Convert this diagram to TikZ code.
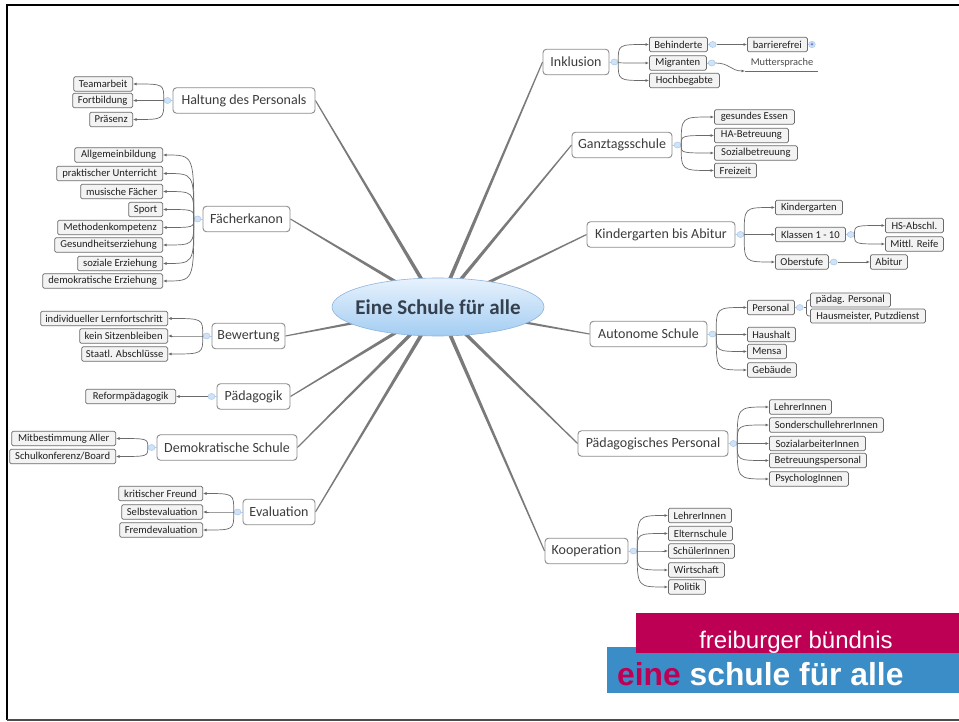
\documentclass[tikz,border=0pt]{standalone}
\usepackage{fontspec}
\setmainfont{Carlito}
\newfontfamily\logofont{Liberation Sans}
\usetikzlibrary{shapes.geometric,arrows.meta,calc}
\pgfdeclarelayer{background}
\pgfsetlayers{background,main}
\definecolor{spokegray}{HTML}{7A7A7A}
\definecolor{boxline}{HTML}{8C8C8C}
\definecolor{kidline}{HTML}{6A6A6A}
\definecolor{kidfill}{HTML}{F3F3F3}
\definecolor{knobfill}{HTML}{CFE2F6}
\definecolor{knobline}{HTML}{A9C8EA}
\definecolor{ellline}{HTML}{8DB4DE}
\definecolor{elltop}{HTML}{E8F2FD}
\definecolor{ellbot}{HTML}{A3CDF3}
\definecolor{titletext}{HTML}{34404E}
\definecolor{maintext}{HTML}{3C3C3C}
\definecolor{logomag}{HTML}{BE0055}
\definecolor{logoblue}{HTML}{3A8DC6}
\begin{document}
\begin{tikzpicture}[x=1pt,y=-1pt,
 mainbox/.style={draw=boxline, line width=0.9pt, rounded corners=3.5pt, fill=white, inner sep=0pt, minimum height=25.5pt, text=maintext, font=\fontsize{14}{16}\selectfont},
 kidbox/.style={draw=kidline, line width=0.75pt, rounded corners=1.5pt, fill=kidfill, inner sep=0pt, minimum height=14.5pt, text=black!88, font=\fontsize{10.6}{12}\selectfont},
 kidL/.style={kidbox, anchor=east},
 kidR/.style={kidbox, anchor=west},
 knob/.style={ellipse, draw=knobline, fill=knobfill, minimum width=7pt, minimum height=6pt, inner sep=0pt, line width=0.5pt},
 kid/.style={draw=kidline, line width=0.7pt, -{Latex[length=3.5pt,width=3pt]}},
 plainline/.style={draw=kidline, line width=0.7pt},
 stub/.style={draw=knobline, line width=0.7pt},
]
\useasboundingbox (0,0) rectangle (959,722);

% frame
\draw[line width=2pt, black] (960,5) -- (7,5) -- (7,720);
\draw[line width=1.5pt, black!70] (7,720) -- (960,720);

% centre
\node[ellipse, draw=ellline, line width=0.6pt, top color=elltop, bottom color=ellbot, minimum width=212pt, minimum height=58pt, inner sep=0pt] (hub) at (438,307) {};
\node[inner sep=0pt, text=titletext, font=\bfseries\fontsize{21}{24}\selectfont] (title) at (hub.center) {Eine Schule für alle};

% ---------- left branches ----------
\node[mainbox, minimum width=142pt] (halt) at (244,100.5) {Haltung des Personals};
\node[kidL, minimum width=59pt] (h1) at (133,84) {Teamarbeit};
\node[kidL, minimum width=60pt] (h2) at (133,100.5) {Fortbildung};
\node[kidL, minimum width=43pt] (h3) at (133,119.5) {Präsenz};
\node[knob] (hk) at ($(halt.west)+(-5,0)$) {};

\node[mainbox, minimum width=87pt] (faech) at (246.5,219) {Fächerkanon};
\node[kidL, minimum width=88pt] (f1) at (163,155) {Allgemeinbildung};
\node[kidL, minimum width=106pt] (f2) at (163,173.5) {praktischer Unterricht};
\node[kidL, minimum width=82pt] (f3) at (163,191.5) {musische Fächer};
\node[kidL, minimum width=34pt] (f4) at (163,209.5) {Sport};
\node[kidL, minimum width=105pt] (f5) at (163,227.5) {Methodenkompetenz};
\node[kidL, minimum width=108pt] (f6) at (163,245) {Gesundheitserziehung};
\node[kidL, minimum width=85pt] (f7) at (163,263.5) {soziale Erziehung};
\node[kidL, minimum width=120pt] (f8) at (163,281) {demokratische Erziehung};
\node[knob] (fk) at ($(faech.west)+(-5,0)$) {};

\node[mainbox, minimum width=73pt] (bew) at (248.5,336) {Bewertung};
\node[kidL, minimum width=127pt] (b1) at (168,318.5) {individueller Lernfortschritt};
\node[kidL, minimum width=88pt] (b2) at (168,336) {kein Sitzenbleiben};
\node[kidL, minimum width=86pt] (b3) at (168,354) {Staatl. Abschlüsse};
\node[knob] (bk) at ($(bew.west)+(-5,0)$) {};

\node[mainbox, minimum width=73pt] (paed) at (253.5,396.5) {Pädagogik};
\node[kidL, minimum width=90pt] (p1) at (176,396.5) {Reformpädagogik};
\node[knob] (pk) at ($(paed.west)+(-5,0)$) {};

\node[mainbox, minimum width=140pt] (demo) at (227,447.5) {Demokratische Schule};
\node[kidL, minimum width=104pt] (d1) at (116,438.5) {Mitbestimmung Aller};
\node[kidL, minimum width=106pt] (d2) at (116,456.5) {Schulkonferenz/Board};
\node[knob] (dk) at ($(demo.west)+(-5,0)$) {};

\node[mainbox, minimum width=72pt] (eval) at (279,512) {Evaluation};
\node[kidL, minimum width=84pt] (e1) at (203,493.5) {kritischer Freund};
\node[kidL, minimum width=81pt] (e2) at (203,512) {Selbstevaluation};
\node[kidL, minimum width=83pt] (e3) at (203,530) {Fremdevaluation};
\node[knob] (ek) at ($(eval.west)+(-5,0)$) {};

% ---------- right branches ----------
\node[mainbox, minimum width=66pt] (inkl) at (576,62) {Inklusion};
\node[kidR, minimum width=58pt] (i1) at (649,44.5) {Behinderte};
\node[kidR, minimum width=57pt] (i2) at (649,63) {Migranten};
\node[kidR, minimum width=70pt] (i3) at (649,80.5) {Hochbegabte};
\node[knob] (ik) at ($(inkl.east)+(5,0)$) {};
\node[knob] (ik1) at ($(i1.east)+(5,0)$) {};
\node[knob] (ik2) at ($(i2.east)+(5,0)$) {};
\node[kidR, minimum width=60pt] (barr) at (747,44.5) {barrierefrei};
\node[knob, minimum width=6.5pt, minimum height=6.5pt, circle, font=\fontsize{6}{6}\selectfont, text=blue!60!black] (plus) at (812,44.5) {+};
\coordinate (mu) at (745,71);
\coordinate (mu2) at (818,71);
\node[inner sep=0pt, text=black!70, font=\fontsize{10.4}{12}\selectfont] (mutt) at (782,62.5) {Muttersprache};

\node[mainbox, minimum width=100pt] (ganz) at (622,145) {Ganztagsschule};
\node[kidR, minimum width=80pt] (g1) at (714,117) {gesundes Essen};
\node[kidR, minimum width=74pt] (g2) at (714,135.5) {HA-Betreuung};
\node[kidR, minimum width=83pt] (g3) at (714,153) {Sozialbetreuung};
\node[kidR, minimum width=42pt] (g4) at (714,170.5) {Freizeit};
\node[knob] (gk) at ($(ganz.east)+(5,0)$) {};

\node[mainbox, minimum width=148pt] (kiga) at (661,234.5) {Kindergarten bis Abitur};
\node[kidR, minimum width=67pt] (k1) at (775,207.5) {Kindergarten};
\node[kidR, minimum width=70pt] (k2) at (775,234.5) {Klassen 1 - 10};
\node[kidR, minimum width=53pt] (k3) at (775,262) {Oberstufe};
\node[knob] (kk) at ($(kiga.east)+(5,0)$) {};
\node[knob] (kk2) at ($(k2.east)+(5,0)$) {};
\node[knob] (kk3) at ($(k3.east)+(5,0)$) {};
\node[kidR, minimum width=58pt] (k21) at (885,225.5) {HS-Abschl.};
\node[kidR, minimum width=58pt] (k22) at (885,244) {Mittl. Reife};
\node[kidR, minimum width=37pt] (k31) at (870,262) {Abitur};

\node[mainbox, minimum width=117pt] (auto) at (648.5,334) {Autonome Schule};
\node[kidR, minimum width=47pt] (a1) at (747,307.5) {Personal};
\node[kidR, minimum width=48pt] (a2) at (747,334.5) {Haushalt};
\node[kidR, minimum width=39pt] (a3) at (747,351.5) {Mensa};
\node[kidR, minimum width=49pt] (a4) at (747,370) {Gebäude};
\node[knob] (ak) at ($(auto.east)+(5,0)$) {};
\node[knob] (ak1) at ($(a1.east)+(5,0)$) {};
\node[kidR, minimum width=80pt, minimum height=14pt] (a11) at (810,300) {pädag. Personal};
\node[kidR, minimum width=115pt, minimum height=14pt] (a12) at (810,316) {Hausmeister, Putzdienst};
\coordinate (aj) at ($(ak1.east)+(3,0)$);

\node[mainbox, minimum width=150pt] (ppers) at (653,443.5) {Pädagogisches Personal};
\node[kidR, minimum width=62pt] (q1) at (769,407) {LehrerInnen};
\node[kidR, minimum width=114pt] (q2) at (769,425) {SonderschullehrerInnen};
\node[kidR, minimum width=96pt] (q3) at (769,443.5) {SozialarbeiterInnen};
\node[kidR, minimum width=97pt] (q4) at (769,460.5) {Betreuungspersonal};
\node[kidR, minimum width=79pt] (q5) at (769,479) {PsychologInnen};
\node[knob] (qk) at ($(ppers.east)+(5,0)$) {};

\node[mainbox, minimum width=83pt] (koop) at (586.5,551) {Kooperation};
\node[kidR, minimum width=63pt] (c1) at (668,515.5) {LehrerInnen};
\node[kidR, minimum width=64pt] (c2) at (668,533.5) {Elternschule};
\node[kidR, minimum width=66pt] (c3) at (668,551) {SchülerInnen};
\node[kidR, minimum width=56pt] (c4) at (668,570) {Wirtschaft};
\node[kidR, minimum width=37pt] (c5) at (668,587) {Politik};
\node[knob] (ck) at ($(koop.east)+(5,0)$) {};

% ---------- tapered spokes (behind the centre) ----------
\begin{pgfonlayer}{background}
\fill[white] (0,0) rectangle (959,722);
\foreach \b/\a in {halt/east,faech/east,bew/east,paed/east,demo/east,eval/east,inkl/west,ganz/west,kiga/west,auto/west,ppers/west,koop/west}
  \fill[spokegray] ($(\b.\a)!0.55pt!90:(hub.center)$) -- ($(hub.center)!2pt!-90:(\b.\a)$) -- ($(hub.center)!2pt!90:(\b.\a)$) -- ($(\b.\a)!0.55pt!-90:(hub.center)$) -- cycle;
\end{pgfonlayer}

% ---------- stubs knob-box ----------
\foreach \k/\b in {hk/halt,fk/faech,bk/bew,pk/paed,dk/demo,ek/eval}
  \draw[stub] (\k) -- (\b.west);
\foreach \k/\b in {ik/inkl,gk/ganz,kk/kiga,ak/auto,qk/ppers,ck/koop,ik1/i1,ik2/i2,kk2/k2,kk3/k3,ak1/a1}
  \draw[stub] (\k) -- (\b.east);

% ---------- child connectors (left) ----------
\foreach \n in {h1,h2,h3}
  \draw[kid] (hk.west) .. controls (hk.west |- \n.east) .. (\n.east);
\foreach \n in {f1,f2,f3,f4,f5,f6,f7,f8}
  \draw[kid] (fk.west) .. controls (fk.west |- \n.east) .. (\n.east);
\foreach \n in {b1,b2,b3}
  \draw[kid] (bk.west) .. controls (bk.west |- \n.east) .. (\n.east);
\draw[kid] (pk.west) -- (p1.east);
\foreach \n in {d1,d2}
  \draw[kid] (dk.west) .. controls (dk.west |- \n.east) .. (\n.east);
\foreach \n in {e1,e2,e3}
  \draw[kid] (ek.west) .. controls (ek.west |- \n.east) .. (\n.east);

% ---------- child connectors (right) ----------
\foreach \n in {i1,i2,i3}
  \draw[kid] (ik.east) .. controls (ik.east |- \n.west) .. (\n.west);
\draw[kid] (ik1.east) -- (barr.west);
\draw[stub] (barr.east) -- (plus.west);
\draw[kid] (ik2.east) .. controls ($(ik2.east)+(14,0)$) and ($(mu)+(-14,0)$) .. (mu);
\draw[plainline] (mu) -- (mu2);
\foreach \n in {g1,g2,g3,g4}
  \draw[kid] (gk.east) .. controls (gk.east |- \n.west) .. (\n.west);
\foreach \n in {k1,k2,k3}
  \draw[kid] (kk.east) .. controls (kk.east |- \n.west) .. (\n.west);
\foreach \n in {k21,k22}
  \draw[kid] (kk2.east) .. controls (kk2.east |- \n.west) .. (\n.west);
\draw[kid] (kk3.east) -- (k31.west);
\foreach \n in {a1,a2,a3,a4}
  \draw[kid] (ak.east) .. controls (ak.east |- \n.west) .. (\n.west);
\draw[plainline] (ak1.east) -- (aj);
\draw[plainline, rounded corners=2.5pt] (a11.west) -| (aj) |- (a12.west);
\foreach \n in {q1,q2,q3,q4,q5}
  \draw[kid] (qk.east) .. controls (qk.east |- \n.west) .. (\n.west);
\foreach \n in {c1,c2,c3,c4,c5}
  \draw[kid] (ck.east) .. controls (ck.east |- \n.west) .. (\n.west);

% ---------- logo ----------
\fill[logoblue] (607,647) rectangle (959,693);
\fill[logomag] (636,613) rectangle (959,653);
\node[anchor=base, inner sep=0pt, text=white, font=\logofont\fontsize{24}{26}\selectfont] (fb) at (796,648) {freiburger bündnis};
\node[anchor=base west, inner sep=0pt, font=\logofont\bfseries\fontsize{31.8}{34}\selectfont] (es) at (617,685) {\textcolor{logomag}{eine} \textcolor{white}{schule für alle}};
\end{tikzpicture}
\end{document}
